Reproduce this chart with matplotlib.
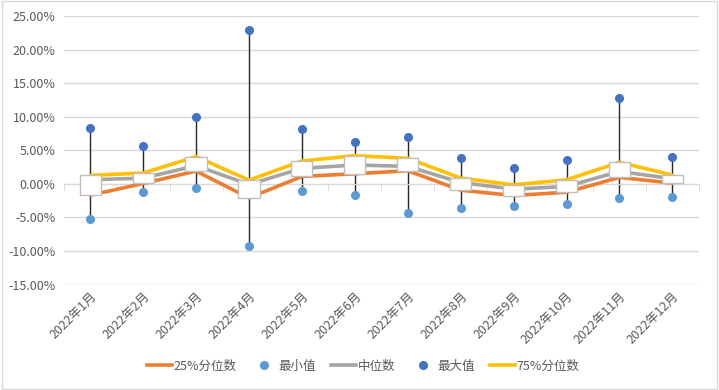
import matplotlib.pyplot as plt
from matplotlib.lines import Line2D
from matplotlib.patches import Rectangle
import numpy as np

plt.rcParams['font.family'] = ['Noto Sans CJK SC', 'DejaVu Sans']

months = ['2022年1月', '2022年2月', '2022年3月', '2022年4月', '2022年5月', '2022年6月',
          '2022年7月', '2022年8月', '2022年9月', '2022年10月', '2022年11月', '2022年12月']
q25 = [-1.70, 0.05, 1.90, -2.10, 1.10, 1.50, 1.95, -0.95, -1.75, -1.25, 0.95, 0.10]
vmin = [-5.25, -1.15, -0.65, -9.30, -1.10, -1.70, -4.40, -3.60, -3.30, -3.00, -2.10, -2.00]
q50 = [0.60, 0.85, 2.70, -0.10, 2.30, 2.80, 2.60, 0.20, -0.80, -0.40, 1.85, 0.75]
vmax = [8.30, 5.60, 9.90, 22.90, 8.10, 6.20, 6.95, 3.80, 2.35, 3.50, 12.75, 3.95]
q75 = [1.25, 1.60, 4.05, 0.55, 3.40, 4.20, 3.80, 0.85, -0.15, 0.60, 3.20, 1.30]

c_q25 = '#ED7D31'
c_min = '#5B9BD5'
c_mid = '#A5A5A5'
c_max = '#4472C4'
c_q75 = '#FFC000'
txt = '#595959'
grid = '#D9D9D9'

fig = plt.figure(figsize=(7.19, 3.90), dpi=100)
ax = fig.add_axes([0.0887, 0.2705, 0.8832, 0.6885])
x = np.arange(len(months))

# high-low lines
ax.vlines(x, vmin, vmax, color='#262626', lw=1.0, zorder=2)
# series lines
ax.plot(x, q25, color=c_q25, lw=2.6, zorder=3, solid_capstyle='round')
ax.plot(x, q50, color=c_mid, lw=2.6, zorder=3, solid_capstyle='round')
ax.plot(x, q75, color=c_q75, lw=2.6, zorder=3, solid_capstyle='round')
# up-down bars
ax.bar(x, np.array(q75) - np.array(q25), bottom=q25, width=0.4, color='white',
       edgecolor='#BFBFBF', lw=1.0, zorder=4)
# min / max markers
ax.plot(x, vmin, 'o', color=c_min, ms=5.5, zorder=5)
ax.plot(x, vmax, 'o', color=c_max, ms=5.5, zorder=5)

ax.set_xlim(-0.5, len(months) - 0.5)
ax.set_ylim(-15, 25)
ax.set_yticks(np.arange(-15, 26, 5))
ax.set_yticklabels([f'{v:.2f}%' for v in np.arange(-15, 26, 5)])
ax.yaxis.grid(True, color=grid, lw=1.0)
ax.set_axisbelow(True)
ax.tick_params(axis='y', length=0, colors=txt, labelsize=9, pad=6)

for s in ['top', 'right', 'left']:
    ax.spines[s].set_visible(False)
ax.spines['bottom'].set_position(('data', 0))
ax.spines['bottom'].set_color(grid)
ax.set_xticks(x)
ax.set_xticklabels([])
ax.tick_params(axis='x', which='major', length=0)
ax.set_xticks(np.arange(-0.5, len(months), 1), minor=True)
ax.tick_params(axis='x', which='minor', length=5, color=grid, direction='out')

sec = ax.secondary_xaxis('bottom')
sec.set_xticks(x)
sec.set_xticklabels(months, rotation=45, ha='right', rotation_mode='anchor')
sec.tick_params(length=0, colors=txt, labelsize=9, pad=4)
sec.spines['bottom'].set_visible(False)

handles = [
    Line2D([], [], color=c_q25, lw=2.6),
    Line2D([], [], ls='none', marker='o', color=c_min, ms=5.5),
    Line2D([], [], color=c_mid, lw=2.6),
    Line2D([], [], ls='none', marker='o', color=c_max, ms=5.5),
    Line2D([], [], color=c_q75, lw=2.6),
]
labels = ['25%分位数', '最小值', '中位数', '最大值', '75%分位数']
fig.legend(handles, labels, loc='center', bbox_to_anchor=(0.505, 0.0615), ncol=5,
           frameon=False, fontsize=9, labelcolor=txt, handlelength=2.0,
           handletextpad=0.15, columnspacing=1.2)

fig.patches.append(Rectangle((0.003, 0.003), 0.994, 0.994, transform=fig.transFigure,
                             fill=False, edgecolor=grid, lw=1.0))

fig.savefig('out.png', dpi=100)
